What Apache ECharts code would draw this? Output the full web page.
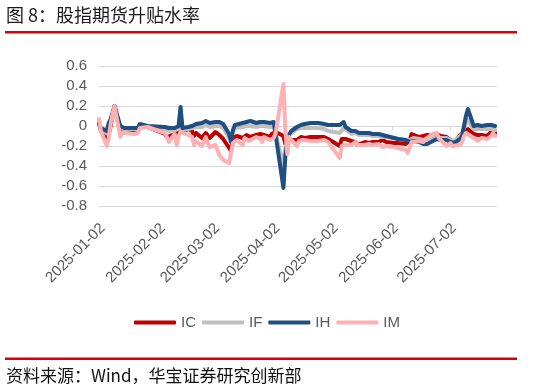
<!DOCTYPE html>
<html><head><meta charset="utf-8">
<script src="https://cdn.jsdelivr.net/npm/echarts@6/dist/echarts.min.js"></script>
<style>html,body{margin:0;padding:0;background:#fff}#c{width:534px;height:391px}</style>
</head><body><div id="c"></div>
<script>
// Trading dates (2025)
const dates = [
 '2025-01-02','2025-01-03','2025-01-06','2025-01-07','2025-01-08','2025-01-09','2025-01-10','2025-01-13','2025-01-14','2025-01-15','2025-01-16','2025-01-17','2025-01-20','2025-01-21','2025-01-22','2025-01-23','2025-01-24','2025-01-27',
 '2025-02-05','2025-02-06','2025-02-07','2025-02-10','2025-02-11','2025-02-12','2025-02-13','2025-02-14','2025-02-17','2025-02-18','2025-02-19','2025-02-20','2025-02-21','2025-02-24','2025-02-25','2025-02-26','2025-02-27','2025-02-28',
 '2025-03-03','2025-03-04','2025-03-05','2025-03-06','2025-03-07','2025-03-10','2025-03-11','2025-03-12','2025-03-13','2025-03-14','2025-03-17','2025-03-18','2025-03-19','2025-03-20','2025-03-21','2025-03-24','2025-03-25','2025-03-26','2025-03-27','2025-03-28','2025-03-31',
 '2025-04-01','2025-04-02','2025-04-03','2025-04-07','2025-04-08','2025-04-09','2025-04-10','2025-04-11','2025-04-14','2025-04-15','2025-04-16','2025-04-17','2025-04-18','2025-04-21','2025-04-22','2025-04-23','2025-04-24','2025-04-25','2025-04-28','2025-04-29','2025-04-30',
 '2025-05-06','2025-05-07','2025-05-08','2025-05-09','2025-05-12','2025-05-13','2025-05-14','2025-05-15','2025-05-16','2025-05-19','2025-05-20','2025-05-21','2025-05-22','2025-05-23','2025-05-26','2025-05-27','2025-05-28','2025-05-29','2025-05-30',
 '2025-06-03','2025-06-04','2025-06-05','2025-06-06','2025-06-09','2025-06-10','2025-06-11','2025-06-12','2025-06-13','2025-06-16','2025-06-17','2025-06-18','2025-06-19','2025-06-20','2025-06-23','2025-06-24','2025-06-25','2025-06-26','2025-06-27','2025-06-30',
 '2025-07-01','2025-07-02','2025-07-03','2025-07-04','2025-07-07','2025-07-08','2025-07-09','2025-07-10','2025-07-11','2025-07-14','2025-07-15','2025-07-16','2025-07-17','2025-07-18','2025-07-21','2025-07-22','2025-07-23','2025-07-24','2025-07-25'
];
const IC = [
 0.03,-0.05,-0.15,-0.08,0.00,0.10,0.20,-0.07,-0.05,-0.06,-0.05,-0.05,-0.05,-0.04,-0.05,-0.01,0.01,-0.01,
 -0.08,-0.11,-0.12,-0.08,-0.10,-0.06,-0.04,-0.06,-0.03,-0.03,-0.05,-0.10,-0.07,-0.12,-0.10,-0.07,-0.09,-0.12,
 -0.06,-0.08,-0.09,-0.10,-0.13,-0.22,-0.25,-0.12,-0.11,-0.10,-0.12,-0.10,-0.09,-0.09,-0.11,-0.09,-0.07,-0.08,-0.10,-0.09,-0.11,
 -0.08,-0.06,-0.06,-0.10,-0.18,-0.20,-0.14,-0.16,-0.14,-0.12,-0.11,-0.12,-0.12,-0.11,-0.12,-0.11,-0.11,-0.11,-0.11,-0.12,-0.13,
 -0.20,-0.13,-0.12,-0.13,-0.15,-0.17,-0.16,-0.19,-0.17,-0.16,-0.17,-0.17,-0.17,-0.16,-0.16,-0.15,-0.14,-0.16,-0.16,
 -0.17,-0.17,-0.17,-0.17,-0.18,-0.19,-0.15,-0.08,-0.07,-0.11,-0.10,-0.10,-0.09,-0.09,-0.10,-0.10,-0.08,-0.09,-0.10,-0.11,
 -0.13,-0.14,-0.16,-0.17,-0.09,-0.08,-0.06,-0.05,-0.03,-0.08,-0.09,-0.09,-0.09,-0.09,-0.10,-0.10,-0.06,-0.06,-0.07
];
const IF = [
 0.01,-0.03,-0.07,0.00,0.04,0.08,0.19,-0.02,-0.03,-0.03,-0.02,-0.03,-0.03,-0.02,-0.03,0.01,0.02,-0.01,
 -0.03,-0.04,-0.05,-0.04,-0.05,-0.03,0.02,-0.04,-0.03,-0.04,-0.02,-0.02,-0.01,-0.01,0.00,0.01,0.01,-0.01,
 0.00,0.00,0.00,-0.01,-0.02,-0.12,-0.14,-0.06,-0.02,-0.02,-0.01,-0.03,0.00,0.01,0.00,-0.01,0.00,0.00,-0.01,0.00,-0.01,
 0.00,0.00,-0.01,-0.40,-0.22,-0.15,-0.09,-0.07,-0.03,-0.02,-0.02,-0.01,-0.02,-0.02,-0.02,-0.02,-0.03,-0.02,-0.03,-0.04,-0.05,
 -0.07,-0.05,-0.02,-0.04,-0.08,-0.08,-0.07,-0.08,-0.09,-0.09,-0.08,-0.09,-0.09,-0.10,-0.10,-0.10,-0.11,-0.11,-0.11,
 -0.12,-0.13,-0.13,-0.14,-0.14,-0.15,-0.14,-0.13,-0.12,-0.13,-0.13,-0.14,-0.14,-0.13,-0.12,-0.11,-0.11,-0.12,-0.12,-0.12,
 -0.13,-0.14,-0.15,-0.15,-0.10,-0.07,-0.02,0.03,0.06,-0.03,-0.04,-0.03,-0.03,-0.03,-0.03,-0.04,-0.03,-0.03,-0.04
];
const IH = [
 0.02,-0.02,-0.05,0.03,0.07,0.09,0.20,0.00,-0.01,-0.02,-0.01,-0.02,-0.02,-0.01,-0.02,0.02,0.03,0.00,
 -0.01,-0.02,-0.02,-0.02,-0.03,0.00,0.19,-0.02,-0.01,-0.02,0.00,0.01,0.02,0.03,0.04,0.05,0.06,0.03,
 0.04,0.04,0.04,0.03,0.02,-0.08,-0.16,-0.04,0.01,0.02,0.03,0.01,0.04,0.05,0.05,0.03,0.04,0.04,0.04,0.04,0.03,
 0.04,0.04,0.03,-0.62,-0.30,-0.16,-0.08,-0.05,-0.01,0.01,0.01,0.02,0.02,0.03,0.04,0.03,0.02,0.03,0.02,0.02,0.01,
 0.01,0.02,0.04,-0.01,-0.05,-0.06,-0.05,-0.06,-0.07,-0.07,-0.06,-0.07,-0.07,-0.08,-0.08,-0.09,-0.09,-0.09,-0.10,
 -0.12,-0.12,-0.13,-0.13,-0.14,-0.15,-0.16,-0.16,-0.15,-0.16,-0.17,-0.18,-0.19,-0.18,-0.15,-0.13,-0.13,-0.14,-0.14,-0.14,
 -0.15,-0.16,-0.17,-0.17,-0.13,-0.10,0.00,0.10,0.17,0.00,-0.01,0.01,0.01,0.00,0.01,0.00,0.01,0.01,0.00
];
const IM = [
 0.07,-0.05,-0.20,-0.12,0.02,0.12,0.20,-0.11,-0.07,-0.09,-0.07,-0.06,-0.08,-0.06,-0.07,-0.02,0.00,-0.01,
 -0.07,-0.11,-0.16,-0.08,-0.19,-0.10,-0.06,-0.08,-0.09,-0.10,-0.11,-0.19,-0.15,-0.20,-0.18,-0.11,-0.17,-0.21,
 -0.19,-0.24,-0.29,-0.30,-0.34,-0.37,-0.36,-0.17,-0.15,-0.14,-0.19,-0.12,-0.14,-0.15,-0.17,-0.11,-0.12,-0.13,-0.16,-0.11,-0.14,
 -0.13,-0.12,-0.07,0.42,-0.05,-0.28,-0.11,-0.14,-0.20,-0.15,-0.16,-0.14,-0.15,-0.15,-0.14,-0.15,-0.14,-0.15,-0.14,-0.15,-0.16,
 -0.32,-0.20,-0.19,-0.19,-0.19,-0.17,-0.16,-0.19,-0.20,-0.19,-0.20,-0.18,-0.20,-0.19,-0.18,-0.19,-0.21,-0.21,-0.20,
 -0.21,-0.21,-0.22,-0.23,-0.24,-0.27,-0.22,-0.16,-0.14,-0.15,-0.15,-0.16,-0.14,-0.12,-0.08,-0.06,-0.07,-0.12,-0.13,-0.20,
 -0.18,-0.17,-0.20,-0.22,-0.19,-0.16,-0.10,-0.07,-0.08,-0.12,-0.14,-0.15,-0.13,-0.12,-0.13,-0.14,-0.10,-0.07,-0.10
];
const tickLabels = ['2025-01-02','2025-02-02','2025-03-02','2025-04-02','2025-05-02','2025-06-02','2025-07-02'];
const seriesNames = ['IC','IF','IH','IM'];
const seriesColors = ['#c00000','#bfbfbf','#1f4e80','#ffb0b2'];
const seriesValues = [IC, IF, IH, IM];

const DAY = 86400000;
function ts(s){const p=s.split('-').map(Number);return Date.UTC(p[0],p[1]-1,p[2]);}
function fmt(v){const d=new Date(Math.round(v));const z=n=>String(n).padStart(2,'0');return d.getUTCFullYear()+'-'+z(d.getUTCMonth()+1)+'-'+z(d.getUTCDate());}
const xMin = ts('2025-01-02'), xMax = ts('2025-07-26');
const labelShift = 1.9*DAY;
const tickValues = tickLabels.map(ts);
const xs = dates.map(ts);

const chart = echarts.init(document.getElementById('c'));
chart.setOption({
  animation:false,
  backgroundColor:'#fff',
  title:{text:'图 8：股指期货升贴水率', left:6, top:6, padding:0,
    textStyle:{fontSize:18, fontWeight:'normal', color:'#1a1a1a', fontFamily:'Noto Sans CJK SC'}},
  graphic:[
    {type:'rect', shape:{x:5, y:31, width:512, height:2.5}, style:{fill:'#d8000f'}, silent:true},
    {type:'rect', shape:{x:5, y:357.5, width:512, height:2.5}, style:{fill:'#d8000f'}, silent:true},
    {type:'text', left:6, top:367, silent:true,
      style:{text:'资料来源：Wind，华宝证券研究创新部', fontSize:17, fontFamily:'Noto Sans CJK SC', fill:'#111'}}
  ],
  legend:{data:seriesNames, left:'center', top:310, icon:'roundRect', itemWidth:42, itemHeight:4, itemGap:6,
    textStyle:{fontSize:15, color:'#595959', fontFamily:'Liberation Sans'}},
  grid:{left:99, right:37, top:66, bottom:185},
  xAxis:[
    {type:'value', min:xMin, max:xMax, position:'bottom', scale:true,
     axisLine:{show:true, onZero:true, lineStyle:{color:'#d9d9d9', width:1}},
     axisTick:{show:true, length:4, customValues:tickValues, lineStyle:{color:'#d9d9d9'}},
     axisLabel:{show:false}, splitLine:{show:false}},
    {type:'value', min:xMin-labelShift, max:xMax-labelShift, position:'bottom', scale:true,
     axisLine:{show:false, onZero:false}, axisTick:{show:false}, splitLine:{show:false},
     axisLabel:{show:true, customValues:tickValues, rotate:45, margin:20, fontSize:15, color:'#595959',
       fontFamily:'Liberation Sans', formatter:(v)=>fmt(v)}}
  ],
  yAxis:{type:'value', min:-0.8, max:0.6, interval:0.2,
    axisLine:{show:false}, axisTick:{show:false},
    splitLine:{lineStyle:{color:'#d9d9d9', width:1}},
    axisLabel:{fontSize:15, color:'#595959', margin:12, fontFamily:'Liberation Sans'}},
  series: seriesNames.map((n,k)=>({
    name:n, type:'line', xAxisIndex:0, symbol:'none', showSymbol:false,
    data: xs.map((x,i)=>[x, seriesValues[k][i]]),
    lineStyle:{width:4, color:seriesColors[k], cap:'round', join:'round'},
    itemStyle:{color:seriesColors[k]}
  }))
});
</script>
</body></html>
